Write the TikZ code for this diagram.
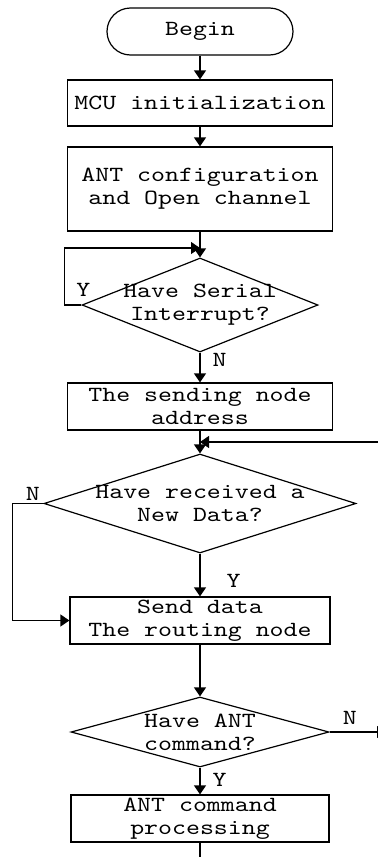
\documentclass[tikz,border=0pt]{standalone}
\usepackage{fontspec}
\newfontfamily\monoschrift{Latin Modern Mono}[FakeStretch=1.23]
\usetikzlibrary{arrows.meta,shapes.geometric,positioning}

\begin{document}
\begin{tikzpicture}[x=0.5pt,y=-0.5pt,
  font=\monoschrift\fontsize{10.8}{11.5}\selectfont,
  every node/.style={align=center,inner sep=0pt},
  linie/.style={line width=0.6pt},
  pfeil/.style={linie,-{Triangle[length=4.5pt,width=6pt]}},
  kasten/.style={draw,linie,rectangle,minimum height=23.5pt},
  start/.style={draw,linie,rectangle,rounded corners=11.75pt,minimum width=93pt,minimum height=23.5pt},
  raute/.style={draw,linie,diamond}]
\useasboundingbox (0,0) rectangle (378,857);
%Bloecke von oben nach unten
\node[start] (begin) at (200,31.5) {Begin};
\node[kasten,minimum width=132.5pt,minimum height=23pt] (init) at (200,103) {MCU initialization};
\node[kasten,minimum width=132.5pt,minimum height=42pt] (config) at (200,189) {ANT configuration\\and Open channel};
\node[raute,minimum width=118pt,minimum height=47pt,label={center:Have Serial\\Interrupt?}] (q1) at (200,305) {};
\node[kasten,minimum width=132.5pt] (addr) at (200,406.5) {The sending node\\address};
\node[raute,minimum width=156pt,minimum height=49.5pt,label={center:Have received a\\New Data?}] (q2) at (200,503.5) {};
\node[kasten,minimum width=130pt] (send) at (200,620.5) {Send data\\The routing node};
\node[raute,minimum width=129pt,minimum height=35pt,label={center:Have ANT\\command?}] (q3) at (200,732) {};
\node[kasten,minimum width=129pt] (proc) at (200,818.5) {ANT command\\processing};
%Hilfspunkte fuer die Rueckfuehrungen
\coordinate (j1) at (200,248);
\coordinate (j2) at (200,442);
\coordinate (rein) at (390,442);
\coordinate (aus) at (386,732);
\coordinate (ende) at (200,870);
%Verbindungen
\draw[pfeil] (begin) -- (init);
\draw[pfeil] (init) -- (config);
\draw[pfeil] (config) -- (q1);
\draw[pfeil] (q1.west) node[anchor=south,xshift=1pt,yshift=4pt] {Y} -- ++(-17,0) |- (j1);
\draw[pfeil] (q1.south) node[anchor=north west,xshift=6pt] {N} -- (addr);
\draw[pfeil] (addr) -- (q2);
\draw[pfeil] (rein) -- (j2);
\draw[pfeil] (q2.west) node[anchor=south east,xshift=-1.5pt,yshift=1pt] {N} -- ++(-31,0) |- (send.west);
\draw[pfeil] (q2) -- (send) node[pos=0.64,right=13pt] {Y};
\draw[pfeil] (send) -- (q3);
\draw[pfeil] (q3.east) -- node[pos=0.36,above=3.5pt] {N} (aus);
\draw[pfeil] (q3.south) node[anchor=north west,xshift=6pt,yshift=-2.5pt] {Y} -- (proc);
\draw[linie] (proc.south) -- (ende);
\end{tikzpicture}
\end{document}
